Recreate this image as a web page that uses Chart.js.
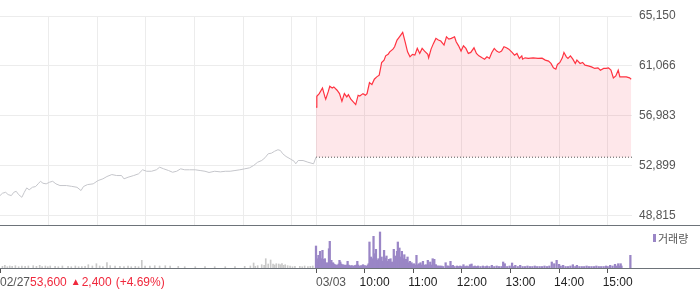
<!DOCTYPE html>
<html>
<head>
<meta charset="utf-8">
<script src="https://cdn.jsdelivr.net/npm/chart.js@4"></script>
<style>
  html, body { margin: 0; padding: 0; background: #fff; }
  #wrap { position: relative; width: 700px; height: 289px; overflow: hidden; }
  #price { position: absolute; left: 0; top: 0; }
  #volume { position: absolute; left: 0; top: 226px; }
  .rule { position: absolute; left: 0; width: 700px; height: 1px; background: #6d7379; }
  #legend-box { position: absolute; left: 653px; top: 234px; width: 3px; height: 8px; background: #9a86c6; }
  #legend-text { position: absolute; left: 658px; top: 231px; font: 11px "Noto Sans CJK KR", sans-serif; line-height: 14px; color: #555; }
</style>
</head>
<body>
<div id="wrap">
  <canvas id="price" width="700" height="225"></canvas>
  <div class="rule" style="top:225px"></div>
  <canvas id="volume" width="700" height="63"></canvas>
  <div class="rule" style="top:268px"></div>
  <div id="legend-box"></div>
  <span id="legend-text">거래량</span>
</div>
<script>
(function () {
  "use strict";

  // 분 단위 인덱스: 0 = 02/27 09:00, 390 = 03/03 09:00, 780 = 03/03 15:30
  var DAY_OFFSET = 390;
  var PREV_CLOSE = 53600;

  var yTicks = [48815, 52899, 56983, 61066, 65150];
  var hourGrid = [60, 120, 180, 240, 300, 360, 390, 450, 510, 570, 630, 690, 750];
  var axisTicks = [0, 390, 450, 510, 570, 630, 690, 750];
  var axisLabels = ["02/27", "03/03", "10:00", "11:00", "12:00", "13:00", "14:00", "15:00"];
  var headline = ["53,600", "▲", "2,400", "(+4.69%)"];

  // 02/27 (전일) 가격
  var prevTimes = [0, 3, 7, 10, 14, 17, 20, 23, 27, 30,
    33, 36, 40, 44, 47, 50, 53, 57, 61, 65,
    69, 74, 82, 88, 95, 100, 103, 108, 115, 121,
    127, 132, 138, 144, 150, 153, 158, 165, 171, 176,
    181, 187, 193, 197, 202, 208, 213, 218, 223, 228,
    234, 241, 247, 253, 258, 265, 272, 278, 284, 290,
    296, 302, 308, 313, 318, 323, 327, 331, 335, 339,
    343, 346, 349, 353, 358, 363, 365, 368, 374, 380,
    387, 390];
  var prevPrices = [50460, 50650, 50730, 50540, 50460, 50730, 50810, 50540, 50320, 50730,
    51090, 50930, 51140, 51200, 51420, 51630, 51470, 51420, 51550, 51630,
    51420, 51280, 51280, 51220, 51140, 50870, 51200, 51360, 51420, 51690,
    51830, 52020, 52180, 52100, 52100, 51830, 51960, 52100, 52240, 52570,
    52450, 52450, 52570, 52780, 52650, 52510, 52370, 52450, 52650, 52570,
    52570, 52570, 52510, 52450, 52350, 52450, 52400, 52450, 52450, 52510,
    52570, 52650, 52730, 52920, 53190, 53330, 53550, 53880, 53930, 54090,
    54210, 54150, 53880, 53660, 53470, 53270, 53060, 53330, 53330, 53190,
    53060, 53600];

  // 03/03 (당일) 가격, 09:00 기준 분
  var todayTimes = [0, 1, 4, 8, 11, 12, 15, 17, 20, 22,
    26, 29, 32, 35, 38, 40, 43, 46, 49, 52,
    54, 58, 61, 63, 66, 69, 72, 75, 78, 80,
    81, 84, 86, 89, 91, 95, 97, 100, 103, 107,
    110, 113, 116, 119, 122, 125, 128, 131, 134, 138,
    139, 142, 145, 148, 151, 154, 158, 161, 164, 167,
    171, 173, 176, 179, 182, 185, 188, 191, 195, 198,
    201, 205, 208, 211, 214, 217, 220, 223, 226, 229,
    232, 235, 238, 242, 245, 248, 251, 254, 255, 258,
    262, 268, 274, 279, 283, 287, 290, 293, 296, 298,
    301, 304, 306, 309, 311, 314, 317, 320, 322, 326,
    329, 332, 336, 340, 344, 348, 351, 355, 358, 361,
    364, 367, 370, 373, 375, 379, 383, 387, 389];
  var todayPrices = [57700, 58580, 58800, 59260, 58530, 58340, 58940, 59400, 59260, 59350,
    59080, 58800, 58170, 58800, 58530, 58720, 58340, 58120, 57900, 58670,
    58610, 58800, 58670, 58800, 59710, 59540, 59980, 60170, 60310, 60990,
    61350, 61540, 61890, 62010, 62220, 62440, 62630, 63180, 63450, 63810,
    63040, 62220, 61810, 62010, 61950, 62500, 62090, 62500, 62280, 62010,
    61730, 62440, 62910, 63320, 63180, 63100, 62770, 63450, 63260, 63320,
    63450, 63040, 62710, 62280, 62710, 62500, 62090, 62170, 62550, 62090,
    61890, 61730, 61620, 61810, 61680, 62170, 62500, 62280, 62170, 62280,
    62630, 62550, 62440, 62170, 61950, 62090, 61680, 61890, 61620, 61730,
    61680, 61730, 61680, 61700, 61540, 61460, 61270, 60910, 60800, 61190,
    61350, 61730, 62170, 61810, 61680, 61890, 61620, 61270, 61540, 61270,
    61350, 61130, 61070, 60990, 60860, 60910, 60720, 60860, 60860, 60910,
    60720, 60090, 60250, 60720, 60170, 60170, 60170, 60090, 59980];

  // 거래량 [분, 주]
  var prevVolume = [[3, 1700], [6, 2700], [9, 1300], [12, 2000], [15, 1700], [19, 2300], [23, 1300], [27, 2000],
    [31, 1700], [35, 2000], [41, 2300], [45, 1700], [49, 2700], [52, 1300], [56, 2000], [59, 1300],
    [62, 2000], [68, 1700], [72, 1300], [77, 2000], [84, 1700], [88, 1300], [93, 2000], [97, 1300],
    [101, 1300], [105, 1700], [109, 3300], [114, 2000], [119, 4300], [123, 2000], [127, 1300], [132, 5300],
    [136, 2300], [142, 2000], [148, 1700], [153, 1300], [158, 2000], [162, 1300], [167, 1700], [171, 1300],
    [175, 7700], [179, 2000], [185, 2000], [191, 2300], [197, 2000], [204, 2300], [210, 2000], [220, 1700],
    [228, 1300], [241, 1300], [253, 1300], [265, 1300], [278, 1300], [290, 1300], [302, 1700], [309, 2000],
    [313, 5000], [315, 1700], [318, 2300], [323, 3300], [326, 2700], [328, 9300], [331, 4000], [334, 8000],
    [337, 4000], [339, 3000], [341, 4300], [344, 4000], [346, 3300], [348, 4300], [350, 2700], [352, 3300],
    [355, 2300], [358, 2000], [361, 1300], [364, 1700], [370, 1700], [373, 1300], [376, 2000], [380, 1300],
    [383, 1700], [386, 2000]];
  var todayVolume = [[0, 22000], [1, 9300], [2, 6000], [3, 12700], [4, 7000], [5, 16700], [6, 8000], [7, 9300],
    [8, 17700], [9, 6000], [10, 8700], [11, 9300], [12, 5000], [13, 4000], [14, 5300], [15, 4000],
    [16, 19300], [17, 26700], [18, 6000], [19, 7700], [20, 4000], [21, 5300], [22, 4000], [23, 3000],
    [24, 3300], [25, 2500], [26, 2700], [27, 3000], [28, 4000], [29, 7700], [30, 6000], [31, 4000],
    [32, 3000], [33, 3300], [34, 2500], [35, 3000], [36, 2700], [37, 2500], [38, 3000], [39, 6700],
    [40, 3000], [41, 2500], [42, 2000], [44, 2500], [46, 2000], [48, 2500], [50, 3000], [51, 6700],
    [52, 3000], [54, 2000], [56, 2500], [58, 3300], [60, 2500], [62, 2000], [64, 3000], [65, 4300],
    [66, 26000], [67, 6000], [68, 11000], [69, 9300], [70, 5000], [71, 31700], [72, 14300], [73, 7000],
    [74, 18700], [75, 6000], [76, 7700], [77, 9300], [78, 6000], [79, 36000], [80, 5000], [81, 11000],
    [82, 6700], [83, 5000], [84, 17700], [85, 6000], [86, 10000], [87, 12000], [88, 5000], [89, 6700],
    [90, 8700], [91, 5000], [92, 9300], [93, 5000], [94, 6000], [95, 5000], [96, 18700], [97, 7000],
    [98, 12000], [99, 6000], [100, 16700], [101, 26000], [102, 8000], [103, 20000], [104, 7000], [105, 11000],
    [106, 16700], [107, 6000], [108, 9300], [109, 13300], [110, 6000], [111, 8700], [112, 5000], [113, 11000],
    [114, 5300], [115, 4000], [116, 6700], [117, 4000], [118, 5300], [119, 3500], [120, 3000], [121, 4300],
    [122, 3000], [124, 12700], [125, 3000], [126, 3000], [127, 4300], [128, 3000], [129, 5300], [130, 3000],
    [132, 6700], [134, 3000], [136, 3300], [138, 7700], [139, 3000], [141, 6000], [142, 3000], [144, 9300],
    [146, 8700], [147, 3000], [148, 3300], [150, 2000], [151, 2000], [153, 2000], [155, 2000], [157, 1500],
    [160, 5300], [162, 2000], [163, 2000], [165, 1500], [166, 6700], [168, 2000], [169, 2700], [171, 1500],
    [174, 2000], [176, 1500], [178, 2000], [180, 1500], [182, 3300], [184, 1500], [186, 2000], [188, 1500],
    [190, 3300], [192, 4000], [194, 1500], [196, 2000], [198, 1500], [200, 2000], [203, 1500], [206, 2000],
    [209, 1500], [211, 2000], [214, 1500], [217, 2700], [220, 1500], [223, 2000], [226, 1500], [229, 1500],
    [231, 6000], [233, 4300], [236, 1500], [239, 2000], [242, 5000], [244, 1500], [246, 2700], [249, 1500],
    [252, 2700], [255, 1500], [258, 1500], [261, 2000], [264, 1500], [267, 1500], [270, 2000], [273, 1500],
    [276, 1500], [279, 1500], [282, 2000], [285, 1500], [288, 2000], [291, 6000], [294, 4300], [297, 7700],
    [300, 3700], [302, 2000], [305, 2700], [308, 1500], [311, 1500], [314, 2000], [317, 3300], [320, 1500],
    [322, 2700], [325, 1500], [328, 1500], [331, 1500], [334, 2000], [337, 1500], [340, 1500], [343, 1500],
    [346, 2000], [349, 1500], [352, 1500], [355, 1500], [358, 2000], [360, 1500], [363, 2700], [366, 2000],
    [369, 3700], [371, 2000], [373, 4300], [374, 2000], [376, 4300], [377, 2000], [388, 12700]];

  var FONT = '"Liberation Sans", Arial, sans-serif';
  Chart.defaults.font.family = FONT;

  function comma(value) {
    return String(value).replace(/\B(?=(\d{3})+(?!\d))/g, ",");
  }
  function points(times, values, offset) {
    return times.map(function (t, i) { return { x: t + offset, y: values[i] }; });
  }
  function pairs(list, offset) {
    return list.map(function (p) { return { x: p[0] + offset, y: p[1] }; });
  }
  function fixedTicks(list) {
    return function (scale) { scale.ticks = list.map(function (v) { return { value: v }; }); };
  }

  // 가격 눈금 글자: 축 여백이 차트 영역을 줄이지 않도록 직접 그린다
  var priceText = {
    id: "priceText",
    afterDraw: function (chart) {
      var ctx = chart.ctx;
      var sy = chart.scales.y;
      var x = chart.chartArea.right + 7;
      ctx.save();
      ctx.font = "12px " + FONT;
      ctx.fillStyle = "#555";
      ctx.textAlign = "left";
      ctx.textBaseline = "middle";
      yTicks.forEach(function (v) { ctx.fillText(comma(v), x, sy.getPixelForValue(v)); });
      ctx.restore();
    }
  };

  new Chart(document.getElementById("price"), {
    type: "line",
    data: {
      datasets: [
        { data: points(prevTimes, prevPrices, 0), borderColor: "#c5c6cb", borderWidth: 1, pointRadius: 0, fill: false },
        { data: [{ x: DAY_OFFSET, y: PREV_CLOSE }, { x: 780, y: PREV_CLOSE }], borderColor: "#555", borderWidth: 1, borderDash: [1, 2], pointRadius: 0, fill: false },
        { data: points(todayTimes, todayPrices, DAY_OFFSET), borderColor: "#ff3341", borderWidth: 1.2, pointRadius: 0,
          fill: { value: PREV_CLOSE }, backgroundColor: "rgba(245,40,60,0.11)" }
      ]
    },
    options: {
      responsive: false,
      animation: false,
      events: [],
      layout: { autoPadding: false, padding: { top: 16, right: 0, bottom: 0, left: 0 } },
      plugins: { legend: { display: false }, tooltip: { enabled: false } },
      scales: {
        x: {
          type: "linear", min: 0, max: 780, offset: false,
          ticks: { display: false, autoSkip: false },
          grid: { color: "#ececec", drawTicks: false },
          border: { display: false },
          afterBuildTicks: fixedTicks(hourGrid),
          afterFit: function (scale) { scale.height = 0; }
        },
        y: {
          position: "right", min: 48054, max: 65150,
          ticks: { display: false, autoSkip: false },
          grid: { color: "#ececec", drawTicks: false },
          border: { display: false },
          afterBuildTicks: fixedTicks(yTicks),
          afterFit: function (scale) { scale.width = 68; }
        }
      }
    },
    plugins: [priceText]
  });

  var axisText = {
    id: "axisText",
    afterDraw: function (chart) {
      var ctx = chart.ctx;
      var sx = chart.scales.x;
      var y = chart.chartArea.bottom + 15;
      ctx.save();
      ctx.textBaseline = "middle";
      ctx.textAlign = "left";
      axisTicks.forEach(function (v, i) {
        var x = sx.getPixelForValue(v);
        ctx.font = "12px " + FONT;
        if (i === 0) {
          ctx.fillStyle = "#555";
          ctx.fillText(axisLabels[0], x, y);
          x += ctx.measureText(axisLabels[0]).width;
          ctx.fillStyle = "#f0283c";
          ctx.fillText(headline[0], x, y);
          x += ctx.measureText(headline[0]).width + 4;
          ctx.font = "10px " + FONT;
          ctx.fillText(headline[1], x, y - 1);
          x += ctx.measureText(headline[1]).width + 1;
          ctx.font = "12px " + FONT;
          ctx.fillText(headline[2], x, y);
          x += ctx.measureText(headline[2]).width + 4;
          ctx.fillText(headline[3], x, y);
        } else if (i === 1) {
          ctx.fillStyle = "#555";
          ctx.fillText(axisLabels[i], x, y);
        } else {
          ctx.fillStyle = "#222";
          ctx.fillText(axisLabels[i], x - 5, y);
        }
      });
      ctx.restore();
    }
  };

  new Chart(document.getElementById("volume"), {
    type: "bar",
    data: {
      datasets: [
        { data: pairs(prevVolume, 0), backgroundColor: "#c9c9c9", barThickness: 1, grouped: false },
        { data: pairs(todayVolume, DAY_OFFSET), backgroundColor: "#9a86c6", barThickness: 1.6, grouped: false }
      ]
    },
    options: {
      responsive: false,
      animation: false,
      events: [],
      layout: { autoPadding: false, padding: { top: 0, right: 68, bottom: 0, left: 0 } },
      plugins: { legend: { display: false }, tooltip: { enabled: false } },
      scales: {
        x: {
          type: "linear", min: 0, max: 780, offset: false,
          ticks: { display: false, autoSkip: false },
          grid: { drawOnChartArea: false, drawTicks: true, tickLength: 5, color: "#555", tickColor: "#555", offset: false },
          border: { display: false },
          afterBuildTicks: fixedTicks(axisTicks),
          afterFit: function (scale) { scale.height = 21; }
        },
        y: { display: false, min: 0, max: 42000 }
      }
    },
    plugins: [axisText]
  });
})();
</script>
</body>
</html>
